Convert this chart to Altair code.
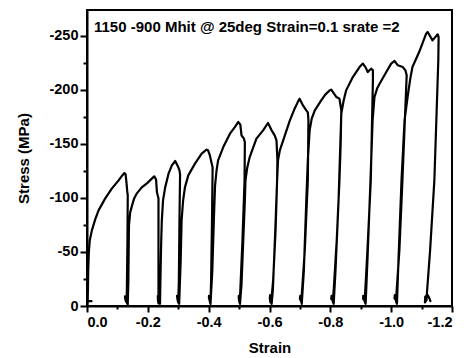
import altair as alt
import pandas as pd

# Strain (x) and stress in MPa (y), cycle by cycle
strain = [
    # cycle 1
    -0.015, -0.001, -0.001, -0.003, -0.004, -0.006, -0.009, -0.016, -0.027, -0.038, -0.060, -0.082,
    -0.104, -0.116, -0.123, -0.127, -0.130, -0.132, -0.134, -0.133, -0.131, -0.130, -0.126, -0.125,
    -0.127, -0.134,
    # cycle 2
    -0.136, -0.137, -0.138, -0.142, -0.148, -0.155, -0.164, -0.180, -0.197, -0.213, -0.221, -0.227,
    -0.230, -0.235, -0.235, -0.235, -0.235, -0.233, -0.233, -0.237,
    # cycle 3
    -0.240, -0.242, -0.244, -0.246, -0.250, -0.257, -0.268, -0.279, -0.290, -0.300, -0.304, -0.306,
    -0.304, -0.302, -0.300, -0.297, -0.296, -0.298,
    # cycle 4
    -0.303, -0.308, -0.311, -0.316, -0.322, -0.333, -0.355, -0.377, -0.393, -0.398, -0.404, -0.410,
    -0.413, -0.411, -0.408, -0.406, -0.401, -0.401, -0.403,
    # cycle 5
    -0.406, -0.412, -0.417, -0.421, -0.426, -0.431, -0.448, -0.470, -0.486, -0.497, -0.504, -0.508,
    -0.516, -0.519, -0.518, -0.511, -0.504, -0.502, -0.499, -0.499, -0.500,
    # cycle 6
    -0.503, -0.508, -0.515, -0.519, -0.521, -0.527, -0.535, -0.557, -0.579, -0.595, -0.607, -0.617,
    -0.623, -0.626, -0.625, -0.620, -0.612, -0.606, -0.603, -0.601, -0.602, -0.605,
    # cycle 7
    -0.607, -0.611, -0.619, -0.625, -0.628, -0.634, -0.645, -0.667, -0.683, -0.694, -0.699, -0.710,
    -0.721, -0.726, -0.728, -0.726, -0.716, -0.706, -0.704, -0.700, -0.701, -0.703,
    # cycle 8
    -0.706, -0.713, -0.721, -0.726, -0.732, -0.739, -0.749, -0.770, -0.784, -0.798, -0.803, -0.820,
    -0.830, -0.836, -0.834, -0.830, -0.821, -0.811, -0.808, -0.803, -0.804, -0.809,
    # cycle 9
    -0.811, -0.817, -0.827, -0.836, -0.844, -0.852, -0.874, -0.896, -0.907, -0.916, -0.923, -0.934,
    -0.940, -0.940, -0.933, -0.922, -0.914, -0.912, -0.908, -0.908, -0.914,
    # cycle 10
    -0.916, -0.922, -0.932, -0.939, -0.945, -0.954, -0.962, -0.984, -1.000, -1.011, -1.022, -1.038,
    -1.047, -1.051, -1.037, -1.027, -1.017, -1.016, -1.011, -1.012, -1.017,
    # cycle 11
    -1.019, -1.024, -1.034, -1.044, -1.054, -1.063, -1.070, -1.092, -1.115, -1.120, -1.136, -1.153,
    -1.156, -1.155, -1.142, -1.128, -1.117, -1.116, -1.111, -1.112, -1.119, -1.125, -1.129,
]

stress = [
    # cycle 1
    -4.5, -4.5, -0.5, -14.4, -33, -49.6, -60.7, -70, -80.2, -88.5, -99.6, -108.9,
    -116.3, -120.9, -123, -121.9, -113.5, -107, -102.4, -60.7, -14.4, -3.3, -6, -9,
    -5.2, -1.5,
    # cycle 2
    -23.7, -51.5, -74.6, -86.7, -92.9, -99.6, -104.3, -109.8, -113.5, -117.9, -120, -117.2,
    -105.2, -99.6, -60.7, -14.4, -2.4, -6, -9.5, -4.3,
    # cycle 3
    -2, -33, -60.7, -79.3, -97.8, -109.8, -122.5, -130.2, -134.2, -128.6, -125.6, -121.9,
    -79.3, -23.7, -3.3, -7, -9.5, -5.2,
    # cycle 4
    -2, -42.2, -79.3, -97.8, -109.8, -120.9, -131.8, -141, -144.7, -144.1, -139.4, -131.8,
    -128.3, -79.3, -23.7, -3.3, -7, -9.5, -5.2,
    # cycle 5
    -2, -33, -79.3, -111.5, -125.6, -134.8, -147.1, -159.5, -165.6, -170.3, -168.1, -158,
    -154.9, -151.5, -116.3, -60, -14, -3.3, -7, -9.5, -5,
    # cycle 6
    -2, -20, -70, -97.8, -116.3, -128.3, -137.9, -154.9, -162.6, -169.4, -162.6, -158,
    -153.3, -134.8, -116.3, -70, -23.7, -5, -3.3, -7, -10, -5,
    # cycle 7
    -2, -14.4, -70, -116.3, -134.8, -144.1, -153.3, -171.8, -182.9, -189.4, -191.9, -185.7,
    -181.1, -179.3, -171.8, -116.3, -51.5, -9.8, -4.3, -6.5, -9.5, -6.1,
    # cycle 8
    -2, -33, -97.8, -134.8, -162.6, -173.7, -181.1, -190.4, -195.9, -199.6, -200.3, -193.4,
    -191.9, -181.1, -150, -116.3, -60.7, -14.4, -5.2, -6.5, -9.5, -3.3,
    # cycle 9
    -2, -33, -97.8, -178, -190.4, -199.6, -211.9, -221.2, -224.4, -220.9, -216.6, -219.7,
    -218.1, -208.9, -116.3, -51.5, -9.8, -5.2, -6.5, -9.5, -3.3,
    # cycle 10
    -2, -42.2, -116.3, -171.8, -193.4, -201.5, -205.8, -216.6, -224.4, -226.8, -222.8, -221.2,
    -218.1, -213.5, -116.3, -51.5, -9.8, -5.2, -7, -10, -3.3,
    # cycle 11
    -2, -42.2, -116.3, -171.8, -193.4, -210.7, -221.2, -235.1, -252.1, -253.6, -245.9, -251.5,
    -249, -227.4, -116.3, -51.5, -9.8, -5.2, -3.3, -8.5, -10.5, -7.5, -4.5,
]

x_major = [0, -0.2, -0.4, -0.6, -0.8, -1.0, -1.2]
x_minor = [-0.1, -0.3, -0.5, -0.7, -0.9, -1.1]
y_major = [0, -50, -100, -150, -200, -250]
y_minor = [-25, -75, -125, -175, -225]

title_text = "1150 -900 Mhit @ 25deg Strain=0.1 srate =2"

df = pd.DataFrame({"strain": strain, "stress": stress, "i": list(range(len(strain)))})

FONT = "Liberation Sans"
xscale = alt.Scale(domain=[0, -1.2], nice=False, zero=False)
yscale = alt.Scale(domain=[0, -274], nice=False, zero=False)

base = alt.Chart(df)

line = base.mark_line(color="black", strokeWidth=2.2, strokeJoin="round", strokeCap="round").encode(
    x=alt.X("strain:Q", scale=xscale,
            axis=alt.Axis(values=x_major, title="Strain", orient="bottom",
                          labelExpr="(datum.value < 0 ? '-' : '') + format(abs(datum.value), '.1f')",
                          tickSize=6, tickWidth=2, domainWidth=2, domainColor="black",
                          tickColor="black", labelFont=FONT, labelFontSize=14.5,
                          labelFontWeight="bold", labelColor="black", labelPadding=3,
                          titleFont=FONT, titleFontSize=15, titleFontWeight="bold",
                          titleColor="black", titlePadding=12, grid=False)),
    y=alt.Y("stress:Q", scale=yscale,
            axis=alt.Axis(values=y_major, title="Stress (MPa)", orient="left",
                          labelExpr="(datum.value < 0 ? '-' : '') + format(abs(datum.value), 'd')",
                          tickSize=7, tickWidth=2, domainWidth=2, domainColor="black",
                          tickColor="black", labelFont=FONT, labelFontSize=14.5,
                          labelFontWeight="bold", labelColor="black", labelPadding=2,
                          titleFont=FONT, titleFontSize=15, titleFontWeight="bold",
                          titleColor="black", titlePadding=17, grid=False)),
    order="i:Q",
)

minor = base.mark_line(strokeOpacity=0).encode(
    x=alt.X("strain:Q", scale=xscale,
            axis=alt.Axis(values=x_minor, labels=False, title=None, orient="bottom",
                          tickSize=3, tickWidth=2, tickColor="black", domain=False, grid=False)),
    y=alt.Y("stress:Q", scale=yscale,
            axis=alt.Axis(values=y_minor, labels=False, title=None, orient="left",
                          tickSize=4, tickWidth=2, tickColor="black", domain=False, grid=False)),
    order="i:Q",
)

label = alt.Chart(pd.DataFrame({"t": [title_text]})).mark_text(
    font=FONT, fontSize=15, fontWeight="bold", color="black", align="left", baseline="middle"
).encode(text="t:N", x=alt.value(7), y=alt.value(17))

chart = alt.layer(line, minor, label).resolve_axis(x="independent", y="independent").properties(
    width=365, height=296,
    padding={"left": 79, "top": 2, "right": 6, "bottom": 50},
    autosize=alt.AutoSizeParams(type="none"),
).configure_view(stroke="black", strokeWidth=2)

chart.save("out.html", embed_options={"renderer": "svg", "actions": False})
